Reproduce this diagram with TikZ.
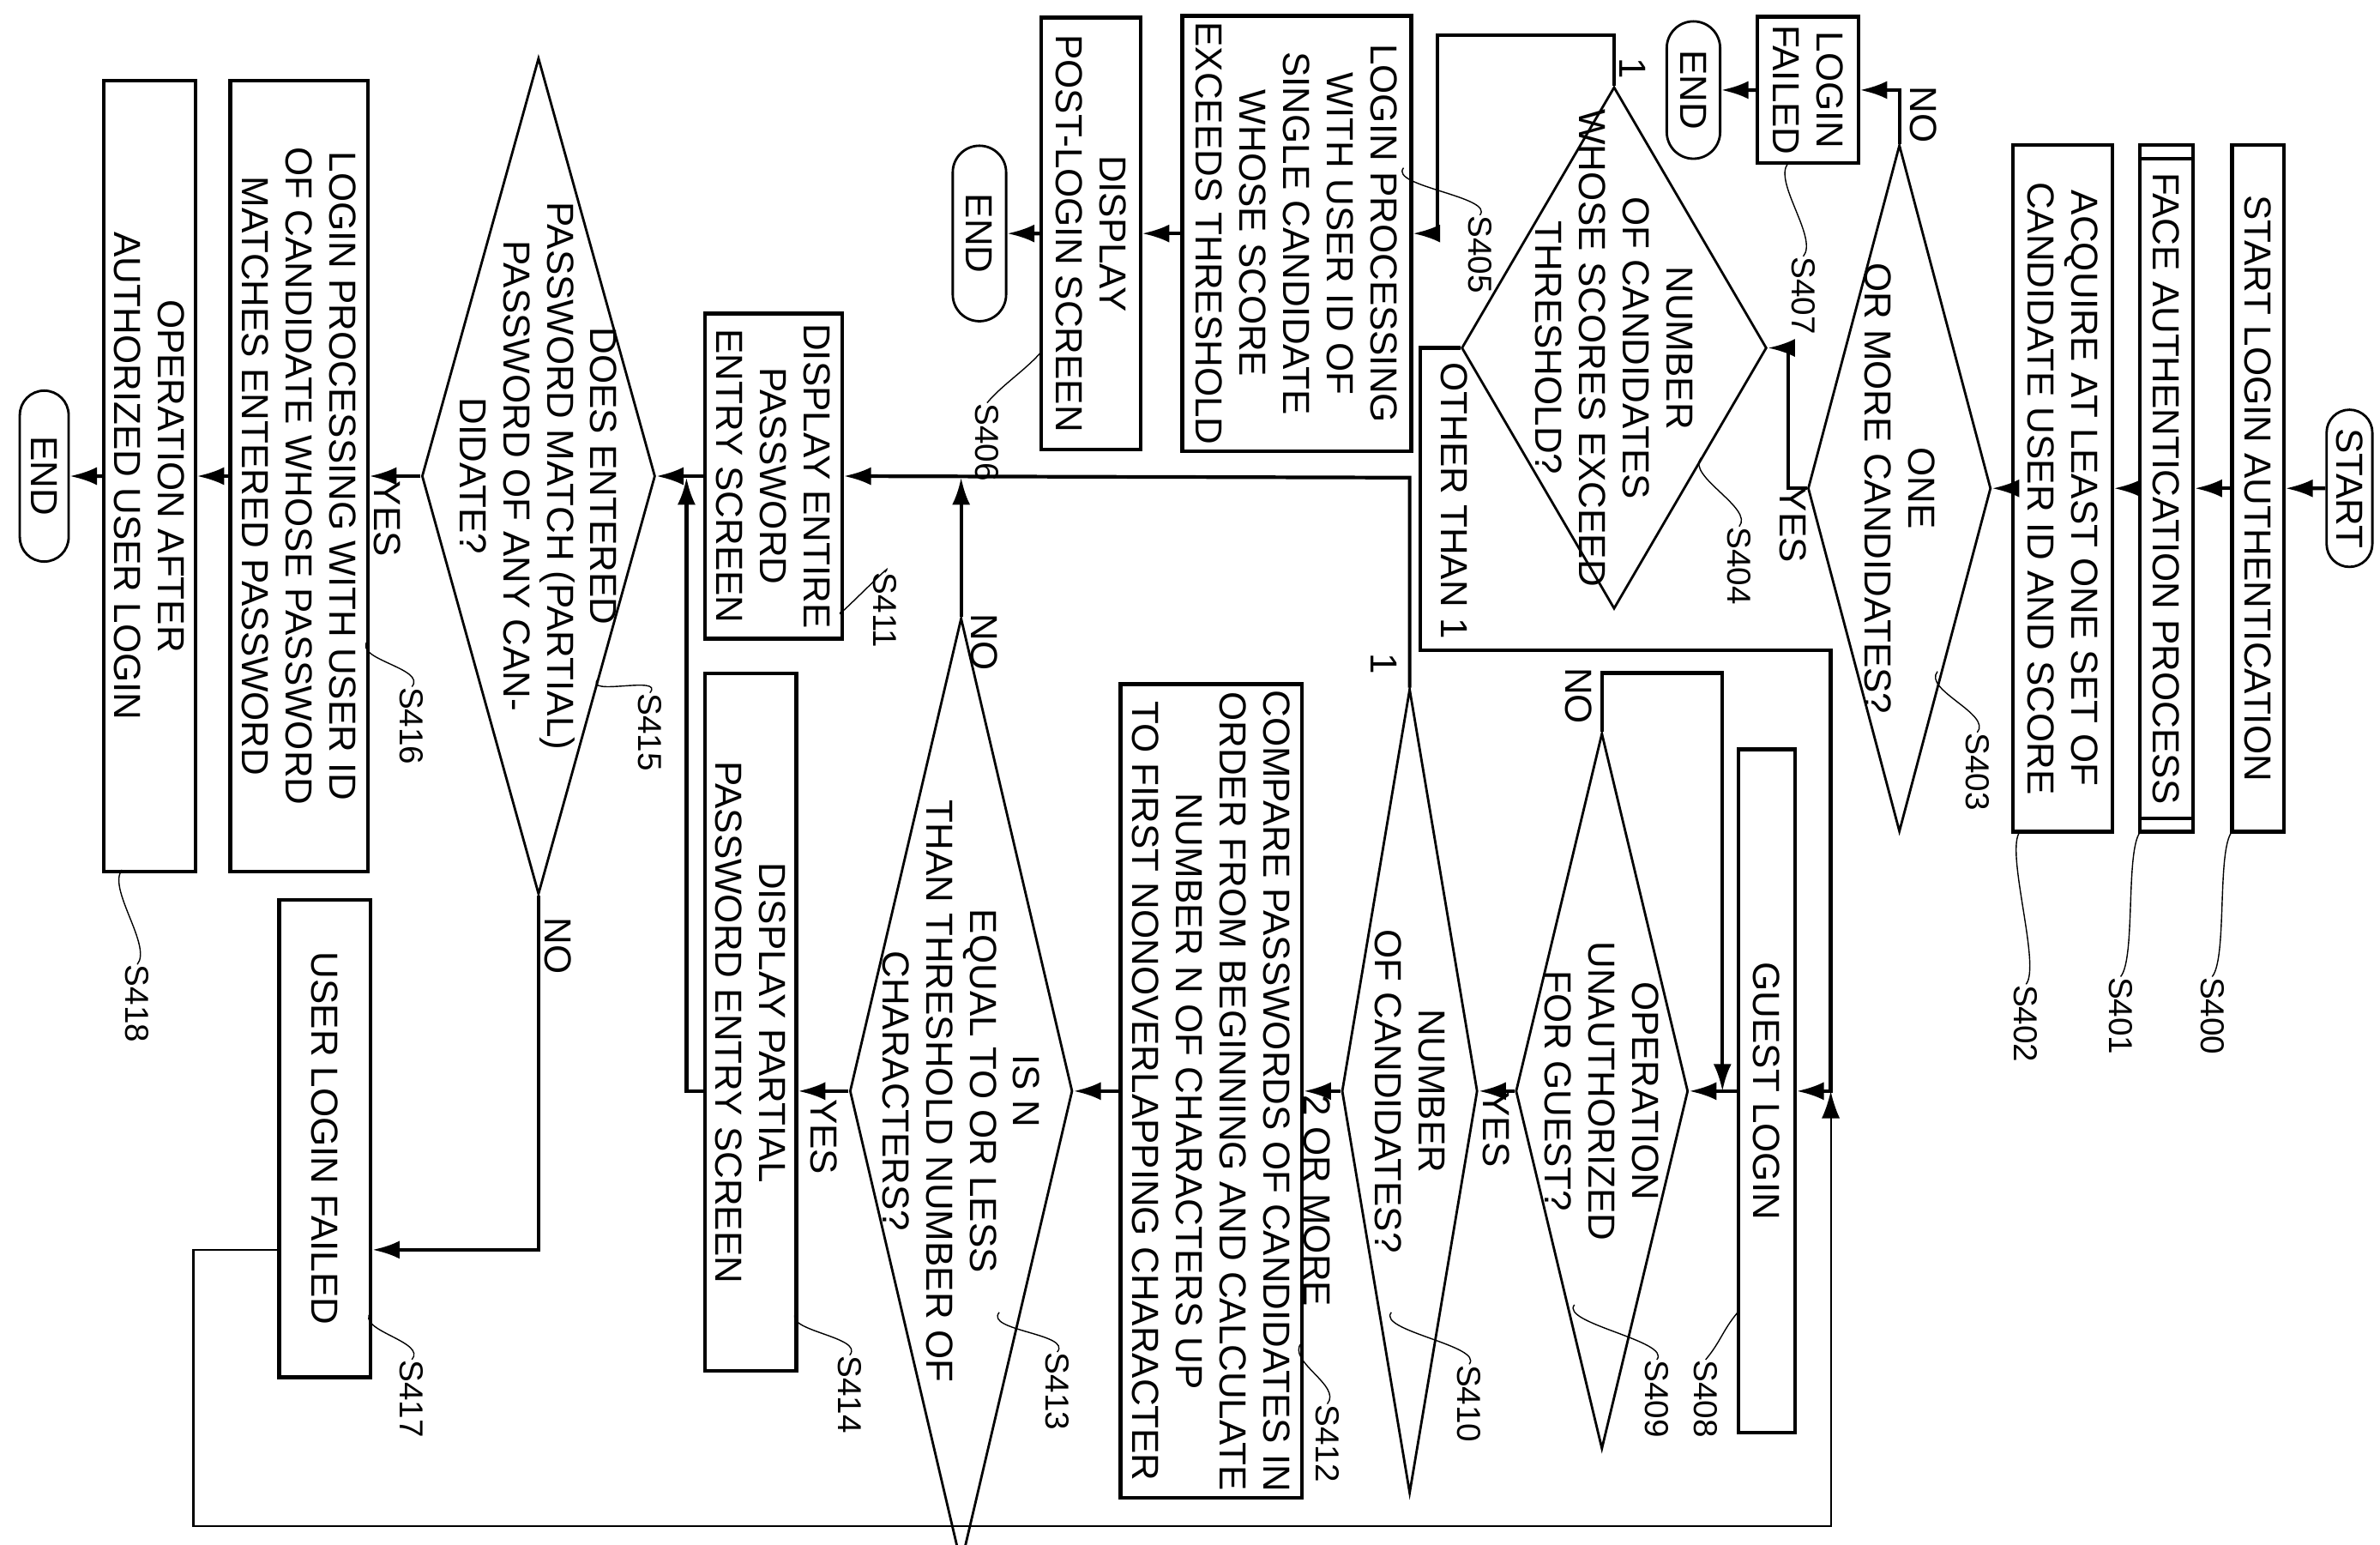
\documentclass[tikz,border=0pt]{standalone}
\usepackage{fontspec}
\setmainfont{Liberation Sans}
\usetikzlibrary{shapes.geometric,shapes.misc,arrows.meta,calc}
\newcommand\px{0.01779cm}
\tikzset{
  box/.style={draw, line width=1.2pt, inner sep=2pt, align=center},
  dec/.style={draw, diamond, line width=0.8pt, inner sep=0pt},
  term/.style={draw, rounded rectangle, line width=0.8pt, inner sep=0pt},
  txt/.style={align=center, inner sep=0pt},
  lbl/.style={inner sep=1pt},
  stepno/.style={inner sep=0pt, font=\fontsize{11}{12}\selectfont},
  squig/.style={line width=0.4pt},
  line/.style={line width=1.2pt},
  arr/.style={line width=1.2pt, -{Latex[length=9pt,width=6pt]}}
}
\begin{document}
\begin{tikzpicture}[x=\px, y=\px, font=\fontsize{12.5}{14.5}\selectfont]
\begin{scope}[rotate=-90, transform shape]
  \useasboundingbox (0,0) rectangle (1012,-1560);
  % upper column
  \node[term, minimum width=103*\px, minimum height=30*\px] (start) at (320,-20) {START};
  \node[box, minimum width=450*\px, minimum height=34*\px] (s400) at (320,-80) {START LOGIN AUTHENTICATION};
  \node[box, minimum width=450*\px, minimum height=35*\px] (s401) at (320,-140) {FACE AUTHENTICATION PROCESS};
  \draw[line] ($(s401.north west)+(10,0)$) -- ($(s401.south west)+(10,0)$);
  \draw[line] ($(s401.north east)+(-10,0)$) -- ($(s401.south east)+(-10,0)$);
  \node[box, minimum width=450*\px, minimum height=65*\px] (s402) at (320,-208) {ACQUIRE AT LEAST ONE SET OF\\CANDIDATE USER ID AND SCORE};
  \node[dec, minimum width=450*\px, minimum height=120*\px] (s403) at (320,-315) {};
  \node[txt] at (s403) {ONE\\OR MORE CANDIDATES?};
  \node[box, minimum width=96*\px, minimum height=66*\px] (s407) at (59,-375) {LOGIN\\FAILED};
  \node[term, minimum width=90*\px, minimum height=35*\px] (end1) at (59,-450) {END};
  \node[dec, minimum width=342*\px, minimum height=200*\px] (s404) at (228,-502) {};
  \node[txt] at (s404) {NUMBER\\OF CANDIDATES\\WHOSE SCORES EXCEED\\THRESHOLD?};
  \node[box, minimum width=283*\px, minimum height=150*\px] (s405) at (153,-710) {LOGIN PROCESSING\\WITH USER ID OF\\SINGLE CANDIDATE\\WHOSE SCORE\\EXCEEDS THRESHOLD};
  \node[box, minimum width=283*\px, minimum height=65*\px] (s406) at (153,-845) {DISPLAY\\POST-LOGIN SCREEN};
  \node[term, minimum width=115*\px, minimum height=35*\px] (end2) at (153,-918) {END};
  % guest branch and candidates
  \node[box, minimum width=448*\px, minimum height=37*\px] (s408) at (715,-402) {GUEST LOGIN};
  \node[dec, minimum width=469*\px, minimum height=113*\px] (s409) at (715,-510) {};
  \node[txt] at (s409) {OPERATION\\UNAUTHORIZED\\FOR GUEST?};
  \node[dec, minimum width=527*\px, minimum height=89*\px] (s410) at (715,-636) {};
  \node[txt] at (s410) {NUMBER\\OF CANDIDATES?};
  \node[box, minimum width=531*\px, minimum height=119*\px] (s412) at (715,-766) {COMPARE PASSWORDS OF CANDIDATES IN\\ORDER FROM BEGINNING AND CALCULATE\\NUMBER N OF CHARACTERS UP\\TO FIRST NONOVERLAPPING CHARACTER};
  \node[dec, minimum width=620*\px, minimum height=146*\px] (s413) at (715,-930) {};
  \node[txt] at (s413) {IS N\\EQUAL TO OR LESS\\THAN THRESHOLD NUMBER OF\\CHARACTERS?};
  \node[box, minimum width=457*\px, minimum height=60*\px] (s414) at (670,-1068) {DISPLAY PARTIAL\\PASSWORD ENTRY SCREEN};
  \node[box, minimum width=213*\px, minimum height=90*\px] (s411) at (312,-1053) {DISPLAY ENTIRE\\PASSWORD\\ENTRY SCREEN};
  % password check
  \node[dec, minimum width=548*\px, minimum height=153*\px] (s415) at (312,-1207) {};
  \node[txt] at (s415) {DOES ENTERED\\PASSWORD MATCH (PARTIAL)\\PASSWORD OF ANY CAN-\\DIDATE?};
  \node[box, minimum width=518*\px, minimum height=90*\px] (s416) at (312,-1364) {LOGIN PROCESSING WITH USER ID\\OF CANDIDATE WHOSE PASSWORD\\MATCHES ENTERED PASSWORD};
  \node[box, minimum width=518*\px, minimum height=60*\px] (s418) at (312,-1462) {OPERATION AFTER\\AUTHORIZED USER LOGIN};
  \node[term, minimum width=112*\px, minimum height=32*\px] (end3) at (312,-1531) {END};
  \node[box, minimum width=313*\px, minimum height=60*\px] (s417) at (746,-1347) {USER LOGIN FAILED};

  % connectors
  \draw[arr] (start) -- (s400);
  \draw[arr] (s400) -- (s401);
  \draw[arr] (s401) -- (s402);
  \draw[arr] (s402) -- (s403);
  \draw[arr] (s403.west) -| (s407.north);
  \draw[arr] (s407) -- (end1);
  \draw[arr] (s403.south) -- ++(0,-12) -| (s404.north);
  \coordinate (j1) at (23,-618);
  \draw[arr] (s404.west) -| (j1) -| (s405.north);
  \draw[arr] (s405) -- (s406);
  \draw[arr] (s406) -- (end2);
  \coordinate (j2) at (426,-629);
  \coordinate (j3) at (715,-360);
  \draw[arr] (s404.south) |- (j2) |- (j3) -- (s408.north);
  \coordinate (j4) at (441,-431);
  \coordinate (j5) at (715,-431);
  \draw[arr] (s409.west) -| (j4) -- (j5);
  \draw[arr] (s408) -- (s409.north);
  \draw[arr] (s409.south) -- (s410.north);
  \draw[arr] (s410.south) -- (s412.north);
  \coordinate (j6) at (313,-636);
  \draw[arr] (s410.west) -- (j6) -- (s411.north);
  \draw[arr] (s412) -- (s413.north);
  \coordinate (j7) at (313,-930);
  \draw[arr] (s413.west) -- (j7);
  \draw[arr] (s413.south) -- (s413.south |- s414.north);
  \coordinate (j8) at (313,-1110);
  \draw[arr] (s413.south |- s414.south) -- (715,-1110) -- (j8);
  \draw[arr] (s411) -- (s415.north);
  \draw[arr] (s415.south) -- (s416.north);
  \draw[arr] (s416) -- (s418);
  \draw[arr] (s418) -- (end3);
  \coordinate (j9) at (819,-1207);
  \draw[arr] (s415.east) -- (j9) -- (j9 |- s417.north);
  \draw[line width=0.6pt, -{Latex[length=9pt,width=6pt]}] (j9 |- s417.south) -- ++(0,-55) -- ++(181,0) -- (1000,-360) -- (j3);

  % branch labels
  \node[lbl] at (75,-299) {NO};
  \node[lbl] at (344,-385) {YES};
  \node[lbl] at (45,-490) {1};
  \node[lbl] at (328,-607) {OTHER THAN 1};
  \node[lbl] at (456,-525) {NO};
  \node[lbl] at (740,-579) {YES};
  \node[lbl] at (787,-697) {2 OR MORE};
  \node[lbl] at (435,-653) {1};
  \node[lbl] at (421,-915) {NO};
  \node[lbl] at (745,-1020) {YES};
  \node[lbl] at (340,-1306) {YES};
  \node[lbl] at (620,-1194) {NO};

  % step numbers
  \foreach \name/\at/\pos in {S400/{545,-97}/{640,-110}, S401/{545,-157}/{640,-170},
      S402/{545,-236}/{645,-232}, S403/{440,-290}/{480,-264}, S404/{300,-445}/{345,-420},
      S405/{110,-640}/{141,-590}, S406/{230,-877}/{264,-913}, S407/{107,-388}/{168,-378},
      S408/{860,-421}/{891,-442}, S409/{855,-528}/{891,-474}, S410/{860,-648}/{894,-597},
      S412/{880,-707}/{920,-690}, S413/{860,-905}/{886,-867}, S414/{860,-1038}/{888,-1003},
      S411/{400,-1008}/{375,-980}, S415/{445,-1168}/{454,-1134}, S416/{420,-1319}/{450,-1290},
      S417/{860,-1317}/{891,-1290}, S418/{570,-1480}/{632,-1470}}
  {
    \node[stepno, anchor=west] (\name) at (\pos) {\name};
    \draw[squig] (\at) .. controls +(12,-10) and +(-12,10) .. (\name.west);
  }
\end{scope}
\end{tikzpicture}
\end{document}
